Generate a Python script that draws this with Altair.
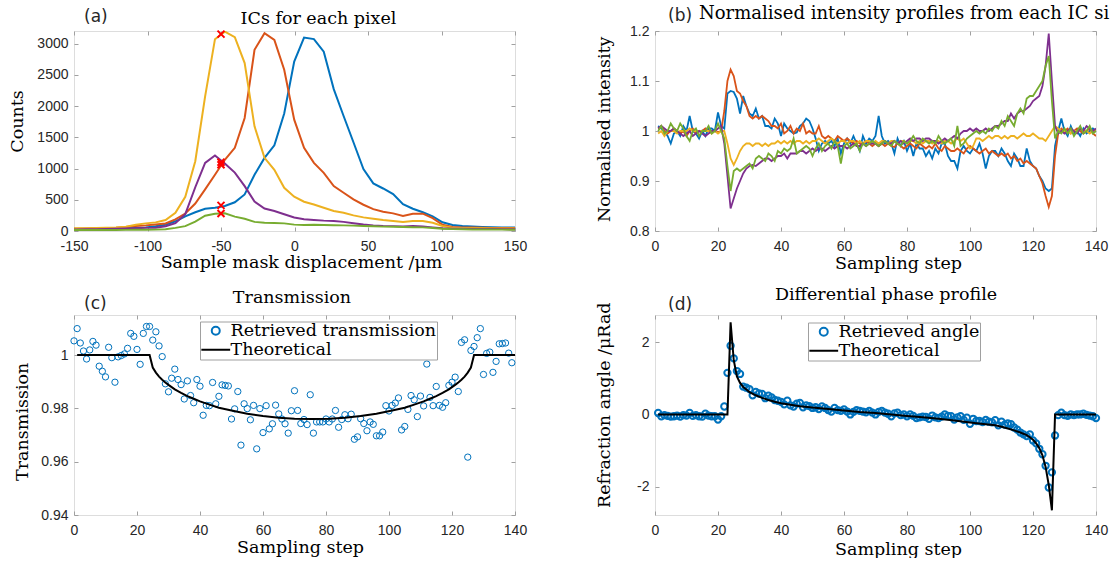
import altair as alt
import pandas as pd

# ---------------- colours / fonts ----------------
BLUE, ORANGE, YELLOW, PURPLE, GREEN = "#0072BD", "#D95319", "#EDB120", "#7E2F8E", "#77AC30"
BOX = "#a0a0a0"
LAB = "#262626"
SANS = "Liberation Sans"
SERIF = "DejaVu Serif"
TFS = 17.5
W, H = 441, 200

# ---------------- (a) ICs for each pixel ----------------
a_x = [-155.0, -148.3, -141.6, -134.9, -128.1, -121.4, -114.7, -107.9, -101.2, -94.5,
       -87.7, -81.0, -74.3, -67.5, -60.8, -54.1, -47.4, -40.6, -33.9, -27.2, -20.4,
       -13.7, -7.0, -0.2, 6.5, 13.2, 19.9, 26.7, 33.4, 40.1, 46.9, 53.6, 60.3, 67.1,
       73.8, 80.5, 87.3, 94.0, 100.7, 107.5, 114.2, 120.9, 127.7, 134.4, 141.1, 147.9, 154.6]
a_blue = [25, 25, 27, 30, 33, 37, 43, 50, 58, 75, 100, 155, 235, 300, 355, 372, 400, 460, 585,
          900, 1170, 1372, 1880, 2710, 3096, 3070, 2870, 2270, 1840, 1420, 990, 761, 680, 590,
          430, 356, 300, 235, 140, 96, 80, 72, 66, 62, 58, 55, 55]
a_orange = [37, 37, 40, 43, 48, 53, 64, 80, 90, 104, 120, 186, 280, 440, 665, 900, 1140, 1330,
            1809, 2899, 3165, 3059, 2580, 1782, 1330, 1090, 931, 718, 612, 505, 420, 350, 309,
            282, 240, 277, 277, 205, 100, 64, 58, 55, 52, 50, 48, 48, 48]
a_yellow = [43, 43, 43, 48, 53, 58, 69, 101, 122, 138, 176, 293, 548, 1117, 2154, 3069, 3190,
            3101, 2686, 1675, 1170, 980, 691, 548, 468, 425, 372, 319, 293, 250, 218, 197, 176,
            160, 144, 160, 160, 133, 80, 53, 48, 43, 43, 40, 40, 40, 40]
a_purple = [25, 25, 27, 30, 33, 37, 40, 45, 50, 53, 75, 125, 270, 700, 1090, 1207, 1080, 935,
            718, 470, 360, 319, 268, 215, 188, 176, 166, 160, 146, 124, 104, 90, 80, 78, 74, 80,
            74, 58, 43, 37, 35, 33, 32, 31, 30, 30, 30]
a_green = [15, 15, 15, 16, 16, 17, 18, 19, 20, 22, 27, 50, 78, 150, 245, 277, 282, 230, 197,
           146, 133, 128, 122, 102, 96, 101, 96, 93, 90, 86, 80, 75, 70, 67, 64, 61, 58, 48, 37,
           30, 27, 25, 24, 23, 22, 21, 21]
a_mark_x = [-50, -50, -50, -50, -50]
a_mark_y = [3150, 1100, 1060, 410, 280]

# ---------------- (b) normalised intensity profiles ----------------
b_step = list(range(1, 141))
b_blue = [1.01, 1.005, 1.0, 0.99, 0.975, 0.995, 1.0, 0.99, 1.01, 1.0,
          1.03, 1.0, 0.995, 0.985, 1.0, 0.99, 1.005, 1.005, 1.0, 1.037,
          1.01, 1.005, 1.075, 1.08, 1.078, 1.065, 1.035, 1.07, 1.05, 1.035,
          1.03, 1.045, 1.025, 1.03, 1.01, 1.01, 1.005, 1.025, 1.015, 0.99,
          1.015, 1.005, 1.0, 0.995, 0.997, 1.01, 1.015, 1.025, 1.02, 1.005,
          0.985, 0.96, 0.975, 0.98, 0.975, 0.98, 0.97, 0.985, 0.955, 0.975,
          0.985, 0.975, 0.99, 0.975, 0.96, 0.99, 0.975, 0.985, 0.98, 0.99,
          1.03, 0.99, 0.975, 0.98, 0.975, 0.955, 0.985, 0.97, 0.98, 0.96,
          0.975, 0.95, 0.975, 0.965, 0.965, 0.95, 0.96, 0.945, 0.965, 0.955,
          0.975, 0.975, 0.95, 0.94, 0.94, 0.925, 0.96, 0.97, 0.96, 0.955,
          0.965, 0.96, 0.975, 0.955, 0.925, 0.95, 0.96, 0.96, 0.95, 0.965,
          0.955, 0.94, 0.93, 0.955, 0.945, 0.93, 0.93, 0.965, 0.94, 0.93,
          0.925, 0.91, 0.9, 0.885, 0.88, 0.885, 0.97, 1.0, 1.025, 1.0,
          0.99, 1.01, 0.995, 1.0, 0.99, 1.005, 0.995, 1.0, 1.005, 1.0]
b_orange = [1.005, 1.01, 1.0, 0.995, 1.0, 1.005, 1.0, 0.995, 1.0, 0.99,
            1.0, 1.005, 0.995, 1.0, 1.0, 1.005, 1.0, 1.0, 1.0, 0.998,
            1.0, 1.04, 1.1, 1.123, 1.11, 1.08, 1.075, 1.06, 1.05, 1.03,
            1.025, 1.03, 1.025, 1.03, 1.025, 1.02, 1.01, 1.01, 1.005, 1.015,
            0.995, 1.0, 1.01, 0.995, 1.005, 1.0, 1.015, 0.995, 1.0, 0.995,
            0.995, 1.01, 0.99, 0.985, 0.99, 0.985, 0.98, 0.99, 0.985, 0.98,
            0.985, 0.98, 0.975, 0.98, 0.975, 0.975, 0.98, 0.975, 0.97, 0.975,
            0.97, 0.975, 0.97, 0.975, 0.97, 0.968, 0.975, 0.97, 0.965, 0.97,
            0.975, 0.97, 0.965, 0.975, 0.97, 0.965, 0.97, 0.965, 0.975, 0.965,
            0.96, 0.97, 0.965, 0.96, 0.96, 0.965, 0.96, 0.955, 0.965, 0.97,
            0.965, 0.96, 0.955, 0.96, 0.965, 0.955, 0.96, 0.955, 0.95, 0.955,
            0.95, 0.955, 0.945, 0.95, 0.94, 0.945, 0.935, 0.94, 0.935, 0.93,
            0.925, 0.91, 0.895, 0.87, 0.848, 0.87, 0.95, 0.995, 1.005, 1.0,
            1.005, 0.995, 1.0, 1.005, 1.0, 0.995, 1.0, 1.005, 0.995, 0.99]
b_yellow = [0.995, 1.0, 0.99, 1.0, 1.0, 1.0, 0.995, 1.0, 1.0, 1.0,
            1.005, 1.0, 1.0, 1.0, 1.0, 1.0, 1.0, 0.995, 1.0, 0.995,
            1.0, 1.0, 0.975, 0.945, 0.932, 0.945, 0.96, 0.97, 0.975, 0.975,
            0.97, 0.975, 0.975, 0.97, 0.975, 0.97, 0.975, 0.975, 0.98, 0.975,
            0.98, 0.975, 0.98, 0.975, 0.98, 0.98, 0.975, 0.98, 0.975, 0.98,
            0.98, 0.985, 0.98, 0.975, 0.98, 0.985, 0.98, 0.975, 0.98, 0.98,
            0.975, 0.98, 0.98, 0.975, 0.98, 0.975, 0.98, 0.98, 0.975, 0.98,
            0.975, 0.98, 0.98, 0.975, 0.98, 0.98, 0.975, 0.98, 0.98, 0.975,
            0.98, 0.98, 0.975, 0.98, 0.975, 0.98, 0.98, 0.975, 0.98, 0.98,
            0.975, 0.98, 0.98, 0.975, 0.98, 0.985, 0.98, 0.985, 0.975, 0.965,
            0.97, 0.985, 0.985, 0.98, 0.985, 0.99, 0.985, 0.99, 0.99, 0.985,
            0.99, 0.985, 0.99, 0.99, 0.985, 0.99, 0.995, 0.99, 0.99, 0.995,
            0.99, 0.985, 0.985, 0.98, 0.99, 1.0, 1.01, 1.005, 1.0, 1.0,
            1.0, 0.995, 1.0, 1.0, 1.005, 1.0, 1.0, 0.995, 1.0, 1.0]
b_purple = [1.005, 1.01, 1.005, 1.0, 1.0, 1.005, 1.0, 0.995, 0.99, 0.995,
            1.0, 0.99, 0.995, 1.0, 0.995, 0.99, 0.995, 1.0, 1.0, 1.005,
            1.01, 0.975, 0.91, 0.845, 0.865, 0.885, 0.9, 0.915, 0.925, 0.93,
            0.932, 0.93, 0.935, 0.94, 0.945, 0.945, 0.94, 0.945, 0.95, 0.95,
            0.955, 0.945, 0.955, 0.955, 0.955, 0.96, 0.96, 0.955, 0.96, 0.965,
            0.96, 0.965, 0.965, 0.96, 0.965, 0.97, 0.965, 0.97, 0.97, 0.97,
            0.965, 0.97, 0.975, 0.97, 0.97, 0.975, 0.97, 0.975, 0.975, 0.975,
            0.97, 0.975, 0.98, 0.975, 0.975, 0.98, 0.975, 0.98, 0.975, 0.98,
            0.985, 0.98, 0.985, 0.985, 0.98, 0.985, 0.985, 0.98, 0.98, 0.975,
            0.98, 0.985, 0.98, 0.985, 0.99, 0.985, 0.995, 1.0, 1.0, 1.005,
            1.0, 1.005, 1.0, 1.0, 1.005, 1.0, 1.005, 1.01, 1.01, 1.015,
            1.02, 1.02, 1.035, 1.025, 1.035, 1.04, 1.04, 1.045, 1.05, 1.06,
            1.065, 1.07, 1.09, 1.13, 1.195, 1.1, 1.01, 0.995, 1.0, 0.995,
            1.0, 1.005, 1.0, 0.995, 1.005, 1.0, 1.01, 1.005, 1.0, 1.005]
b_green = [1.0, 1.01, 0.995, 1.0, 1.015, 1.005, 1.0, 1.015, 1.005, 0.99,
           0.98, 1.0, 1.005, 0.99, 1.0, 1.0, 1.01, 0.995, 1.0, 1.015,
           1.0, 0.985, 0.93, 0.88, 0.92, 0.925, 0.92, 0.925, 0.93, 0.935,
           0.925, 0.945, 0.95, 0.945, 0.94, 0.955, 0.95, 0.94, 0.96, 0.955,
           0.965, 0.96, 0.965, 0.985, 0.955, 0.96, 0.965, 0.97, 0.965, 0.95,
           0.965, 0.975, 0.96, 0.97, 0.975, 0.965, 0.98, 0.97, 0.935, 0.97,
           0.975, 0.965, 0.97, 0.975, 0.96, 0.975, 0.97, 0.975, 0.98, 0.975,
           0.97, 0.975, 0.98, 0.975, 0.97, 0.98, 0.975, 0.97, 0.98, 0.975,
           0.98, 0.99, 0.98, 0.975, 0.985, 0.98, 0.975, 0.98, 0.975, 0.99,
           0.98, 0.975, 0.98, 0.985, 0.97, 1.01, 0.97, 0.975, 0.985, 0.99,
           0.995, 1.0, 0.995, 1.0, 0.995, 1.005, 1.0, 1.01, 1.005, 1.02,
           1.01, 1.03, 1.02, 1.01, 1.035, 1.045, 1.035, 1.065, 1.07, 1.07,
           1.08, 1.09, 1.1, 1.13, 1.15, 1.06, 0.985, 1.0, 0.995, 1.005,
           0.995, 1.005, 0.99, 1.0, 1.01, 0.995, 1.0, 1.01, 0.995, 1.0]

# ---------------- (c) transmission ----------------
c_step = list(range(0, 140))
c_retrieved = [1.0053, 1.0099, 1.0045, 1.0015, 0.9985, 1.0019, 1.0051, 1.0037, 0.9958, 0.9939,
               0.9918, 1.0029, 0.999, 0.9898, 0.9993, 0.9998, 1.0004, 1.0025, 1.0081, 1.007,
               1.0021, 0.9965, 1.0081, 1.0107, 1.0107, 1.0056, 1.0087, 1.0034, 0.9994, 0.9892,
               0.9862, 0.9913, 0.9947, 0.9908, 0.9889, 0.9835, 0.9903, 0.9848, 0.9821, 0.9908,
               0.9883, 0.9774, 0.9811, 0.981, 0.9897, 0.9817, 0.9845, 0.9888, 0.9886, 0.9884,
               0.976, 0.9798, 0.9863, 0.9662, 0.9817, 0.9799, 0.9757, 0.9811, 0.9648, 0.9799,
               0.9709, 0.981, 0.9723, 0.9742, 0.9812, 0.9779, 0.976, 0.9742, 0.9707, 0.9791,
               0.9866, 0.9792, 0.9743, 0.9758, 0.9739, 0.9851, 0.9707, 0.9749, 0.9749, 0.9749,
               0.976, 0.9749, 0.976, 0.9792, 0.9729, 0.9758, 0.9776, 0.9761, 0.9778, 0.9684,
               0.9693, 0.9761, 0.9743, 0.9716, 0.9749, 0.974, 0.9697, 0.9697, 0.9711, 0.981,
               0.979, 0.9811, 0.982, 0.9839, 0.9719, 0.9732, 0.9796, 0.9848, 0.9832, 0.9769,
               0.9846, 0.9809, 0.9966, 0.9841, 0.981, 0.9882, 0.9811, 0.9804, 0.9821, 0.9886,
               0.9898, 0.9917, 0.9863, 1.0047, 1.0057, 0.9617, 1.0017, 1.0032, 1.0065, 1.0099,
               0.9927, 1.0006, 1.0011, 0.9935, 0.9976, 1.0042, 1.0043, 1.0045, 1.0007, 0.9971]
c_theory_x = [1, 24, 25, 26, 27, 28, 29, 30, 32, 34, 36, 38, 40, 43, 46, 50, 55, 60, 65, 70,
              75.5, 81, 86, 91, 96, 101, 105, 108, 111, 113, 115, 117, 119, 121, 122, 123, 124,
              125, 126, 127, 140]
c_theory_y = [1.0, 1.0, 0.9953, 0.9934, 0.9919, 0.9907, 0.9897, 0.9888, 0.9871, 0.9858, 0.9846,
              0.9836, 0.9826, 0.9814, 0.9802, 0.9792, 0.978, 0.9771, 0.9765, 0.9761, 0.976,
              0.9761, 0.9765, 0.9771, 0.978, 0.9792, 0.9802, 0.9814, 0.9826, 0.9836, 0.9846,
              0.9858, 0.9871, 0.9888, 0.9897, 0.9907, 0.9919, 0.9934, 0.9953, 1.0, 1.0]

# ---------------- (d) differential phase ----------------
d_step = list(range(1, 141))
d_retrieved = [0.04, -0.05, -0.02, -0.04, -0.06, -0.05, -0.03, -0.06, -0.02, -0.03,
               0.04, -0.04, -0.02, -0.05, -0.06, 0.02, -0.03, -0.05, -0.05, -0.14,
               -0.05, 0.22, 1.15, 1.9, 1.55, 1.2, 1.12, 0.77, 0.74, 0.7,
               0.53, 0.62, 0.58, 0.57, 0.45, 0.52, 0.47, 0.4, 0.38, 0.35,
               0.28, 0.38, 0.25, 0.22, 0.3, 0.32, 0.2, 0.25, 0.23, 0.18,
               0.2, 0.15, 0.22, 0.18, 0.12, 0.08, 0.18, 0.12, 0.1, 0.14,
               0.08, 0.0, 0.07, 0.12, 0.1, 0.08, 0.06, 0.1, 0.05, 0.0,
               0.07, 0.1, 0.05, 0.02, -0.05, 0.03, 0.05, -0.02, 0.0, -0.05,
               0.0, -0.04, -0.1, -0.08, -0.06, -0.07, -0.12, -0.03, -0.08, -0.1,
               -0.06, 0.0, -0.04, -0.05, -0.14, -0.08, -0.05, -0.15, -0.09, -0.26,
               -0.12, -0.18, -0.18, -0.21, -0.15, -0.2, -0.22, -0.16, -0.3, -0.2,
               -0.28, -0.25, -0.27, -0.36, -0.42, -0.5, -0.55, -0.6, -0.55, -0.72,
               -0.8, -0.95, -1.1, -1.42, -2.02, -1.6, -0.58, -0.02, 0.05, -0.02,
               -0.04, 0.0, -0.02, 0.0, 0.0, 0.02, -0.01, -0.03, -0.05, -0.1]
d_theory_x = [1, 23, 24, 25, 26, 27, 28, 29, 30, 32, 34, 36, 38, 40, 43, 46, 50, 55, 60, 65, 70,
              75, 80, 85, 90, 95, 100, 105, 108, 110, 112, 114, 116, 118, 119, 120, 121, 122,
              123, 124, 125, 126, 127, 140]
d_theory_y = [0.0, 0.0, 2.55, 1.5, 1.05, 0.87, 0.76, 0.69, 0.62, 0.53, 0.46, 0.40, 0.35, 0.31,
              0.27, 0.23, 0.19, 0.15, 0.11, 0.07, 0.04, 0.0, -0.04, -0.08, -0.12, -0.17, -0.22,
              -0.27, -0.30, -0.34, -0.39, -0.44, -0.50, -0.57, -0.63, -0.70, -0.80, -0.93,
              -1.13, -1.45, -1.95, -2.65, 0.0, 0.0]

STEP_TICKS = [0, 20, 40, 60, 80, 100, 120, 140]


# ---------------- helpers ----------------
def ax_bottom(vals, title, tx, ty):
    return alt.Axis(orient="bottom", values=vals, labelExpr="'' + datum.value",
                    offset=-4, tickSize=4, tickColor=BOX, tickWidth=1, domain=False, grid=False,
                    labelPadding=8, labelFont=SANS, labelFontSize=14, labelColor=LAB,
                    labelFlush=False, labelOverlap=False,
                    title=title, titleFont=SERIF, titleFontSize=TFS, titleFontWeight="normal",
                    titleColor="black", titleX=tx, titleY=ty, titleAlign="center",
                    titleBaseline="alphabetic", titleAngle=0)


def ax_left(vals, title, tx, ty):
    return alt.Axis(orient="left", values=vals, labelExpr="'' + datum.value",
                    offset=-4, tickSize=4, tickColor=BOX, tickWidth=1, domain=False, grid=False,
                    labelPadding=6, labelFont=SANS, labelFontSize=14, labelColor=LAB,
                    labelFlush=False, labelOverlap=False,
                    title=title, titleFont=SERIF, titleFontSize=TFS, titleFontWeight="normal",
                    titleColor="black", titleX=tx, titleY=ty, titleAlign="center",
                    titleBaseline="alphabetic", titleAngle=270)


def ax_top(vals):
    return alt.Axis(orient="top", values=vals, offset=-4, tickSize=4, tickColor=BOX,
                    tickWidth=1, domain=False, grid=False, labels=False, title="")


def ax_right(vals):
    return alt.Axis(orient="right", values=vals, offset=-4, tickSize=4, tickColor=BOX,
                    tickWidth=1, domain=False, grid=False, labels=False, title="")


def txt(text, x, y, font, size, align="left", color="black", limit=0):
    kw = dict(font=font, fontSize=size, align=align, baseline="alphabetic", color=color,
              fontWeight="normal")
    if limit:
        kw.update(limit=limit, ellipsis="\u200b")
    return alt.Chart(pd.DataFrame({"t": [text]})).mark_text(**kw).encode(
        text="t:N", x=alt.value(x), y=alt.value(y))


def long_df(xs, series):
    frames = [pd.DataFrame({"x": xs, "v": vals, "s": name}) for name, vals in series]
    return pd.concat(frames, ignore_index=True)


# ---------------- panel (a) ----------------
names = ["IC 1", "IC 2", "IC 3", "IC 4", "IC 5"]
col5 = alt.Scale(domain=names, range=[BLUE, ORANGE, YELLOW, PURPLE, GREEN])
df_a = long_df(a_x, zip(names, [a_blue, a_orange, a_yellow, a_purple, a_green]))
df_am = pd.DataFrame({"x": a_mark_x, "v": a_mark_y})
xa = alt.Scale(domain=[-150, 150], nice=False, zero=False)
ya = alt.Scale(domain=[0, 3200], nice=False)

a_lines = alt.Chart(df_a).mark_line(strokeWidth=2, clip=True).encode(
    x=alt.X("x:Q", scale=xa, axis=ax_bottom([-150, -100, -50, 0, 50, 100, 150],
                                            "Sample mask displacement /μm", 227, 40)),
    y=alt.Y("v:Q", scale=ya, axis=ax_left([0, 500, 1000, 1500, 2000, 2500, 3000],
                                          "Counts", -56, 90)),
    color=alt.Color("s:N", scale=col5, legend=None))
a_marks = alt.Chart(df_am).mark_point(shape="M-1,-1L1,1M-1,1L1,-1", filled=False,
                                      color="#FF0000", size=49, strokeWidth=2, opacity=1).encode(
    x=alt.X("x:Q", scale=xa, axis=ax_top([-150, -100, -50, 0, 50, 100, 150])),
    y=alt.Y("v:Q", scale=ya, axis=ax_right([0, 500, 1000, 1500, 2000, 2500, 3000])))
anchor = alt.Chart(pd.DataFrame({"k": [0]})).mark_rule(color="white", strokeWidth=1).encode(
    x=alt.value(-72.5), x2=alt.value(-71.5), y=alt.value(-30))
panel_a = alt.layer(
    a_lines, a_marks,
    txt("(a)", 10, -9, "DejaVu Sans", 17, color=LAB),
    txt("ICs for each pixel", 244.5, -7.5, SERIF, TFS, align="center"),
    anchor,
).resolve_axis(x="independent", y="independent").properties(width=W, height=H)

# ---------------- panel (b) ----------------
df_b = long_df(b_step, zip(names, [b_blue, b_orange, b_yellow, b_purple, b_green]))
xb = alt.Scale(domain=[0, 140], nice=False, zero=False)
yb = alt.Scale(domain=[0.8, 1.2], nice=False, zero=False)
b_main = alt.Chart(df_b).transform_filter(alt.datum.s != "IC 5").mark_line(
    strokeWidth=1.8, clip=True).encode(
    x=alt.X("x:Q", scale=xb, axis=ax_bottom(STEP_TICKS, "Sampling step", 243, 41.6)),
    y=alt.Y("v:Q", scale=yb, axis=ax_left([0.8, 0.9, 1, 1.1, 1.2], "Normalised intensity",
                                          -49.6, 97.8)),
    color=alt.Color("s:N", scale=col5, legend=None))
b_last = alt.Chart(df_b).transform_filter(alt.datum.s == "IC 5").mark_line(
    strokeWidth=1.8, clip=True).encode(
    x=alt.X("x:Q", scale=xb, axis=ax_top(STEP_TICKS)),
    y=alt.Y("v:Q", scale=yb, axis=ax_right([0.8, 0.9, 1, 1.1, 1.2])),
    color=alt.Color("s:N", scale=col5, legend=None))
panel_b = alt.layer(
    b_main, b_last,
    txt("(b)", 13, -10, "DejaVu Sans", 17, color=LAB),
    txt("Normalised intensity profiles from each IC side", 44, -12, SERIF, 18, limit=421),
).resolve_axis(x="independent", y="independent").properties(width=W, height=H)

# ---------------- panel (c) ----------------
c_names = ["Retrieved transmission", "Theoretical"]
df_c = pd.DataFrame({"x": c_step, "v": c_retrieved, "s": c_names[0]})
df_ct = pd.DataFrame({"x": c_theory_x, "v": c_theory_y, "s": c_names[1]})
yc = alt.Scale(domain=[0.94, 1.015], nice=False, zero=False)

LEG_PROPS = dict(labelFont=SERIF, labelFontSize=TFS, labelColor="black", labelLimit=400,
                 symbolSize=64, symbolStrokeWidth=2, symbolOffset=6.5, labelOffset=6,
                 padding=0.5, rowPadding=0, strokeColor=BOX, fillColor="white",
                 symbolFillColor="transparent")


def make_legend(lx, ly):
    return alt.Legend(title=None, orient="none", legendX=lx, legendY=ly, **LEG_PROPS)


leg_c = make_legend(126, 6.5)
colc = alt.Scale(domain=c_names, range=[BLUE, "black"])
shpc = alt.Scale(domain=c_names, range=["circle", "M-3.6,0L3.6,0"])
c_pts = alt.Chart(df_c).mark_point(filled=False, size=40, strokeWidth=1, opacity=1).encode(
    x=alt.X("x:Q", scale=xb, axis=ax_bottom(STEP_TICKS, "Sampling step", 226, 41.7)),
    y=alt.Y("v:Q", scale=yc, axis=ax_left([0.94, 0.96, 0.98, 1], "Transmission", -50.7, 106.3)),
    color=alt.Color("s:N", scale=colc, legend=leg_c),
    shape=alt.Shape("s:N", scale=shpc, legend=leg_c))
c_line = alt.Chart(df_ct).mark_line(strokeWidth=2, clip=True).encode(
    x=alt.X("x:Q", scale=xb, axis=ax_top(STEP_TICKS)),
    y=alt.Y("v:Q", scale=yc, axis=ax_right([0.94, 0.96, 0.98, 1])),
    color=alt.Color("s:N", scale=colc, legend=leg_c))
panel_c = alt.layer(
    c_pts, c_line,
    txt("(c)", 10, -6, "DejaVu Sans", 17, color=LAB),
    txt("Transmission", 218, -12, SERIF, TFS, align="center"),
).resolve_axis(x="independent", y="independent").properties(width=W, height=H)

# ---------------- panel (d) ----------------
d_names = ["Retrieved angle", "Theoretical"]
df_d = pd.DataFrame({"x": d_step, "v": d_retrieved, "s": d_names[0]})
df_dt = pd.DataFrame({"x": d_theory_x, "v": d_theory_y, "s": d_names[1]})
yd = alt.Scale(domain=[-2.78, 2.75], nice=False, zero=False)
leg_d = make_legend(153, 7.5)
cold = alt.Scale(domain=d_names, range=[BLUE, "black"])
shpd = alt.Scale(domain=d_names, range=["circle", "M-3.6,0L3.6,0"])
d_pts = alt.Chart(df_d).mark_point(filled=False, size=40, strokeWidth=2, opacity=1).encode(
    x=alt.X("x:Q", scale=xb, axis=ax_bottom(STEP_TICKS, "Sampling step", 243, 43)),
    y=alt.Y("v:Q", scale=yd, axis=ax_left([-2, 0, 2], "Refraction angle /μRad", -49.6, 89.7)),
    color=alt.Color("s:N", scale=cold, legend=leg_d),
    shape=alt.Shape("s:N", scale=shpd, legend=leg_d))
d_line = alt.Chart(df_dt).mark_line(strokeWidth=2, clip=True).encode(
    x=alt.X("x:Q", scale=xb, axis=ax_top(STEP_TICKS)),
    y=alt.Y("v:Q", scale=yd, axis=ax_right([-2, 0, 2])),
    color=alt.Color("s:N", scale=cold, legend=leg_d))
panel_d = alt.layer(
    d_pts, d_line,
    txt("(d)", 13, -5.5, "DejaVu Sans", 17, color=LAB),
    txt("Differential phase profile", 231, -15, SERIF, TFS, align="center"),
).resolve_axis(x="independent", y="independent").properties(width=W, height=H)

# ---------------- assemble ----------------
chart = alt.ConcatChart(
    concat=[panel_a, panel_b, panel_c, panel_d], columns=2,
    spacing={"row": 84, "column": 140}, bounds="flush",
).resolve_scale(color="independent", shape="independent").properties(
    padding={"left": 0, "top": 0, "right": 0, "bottom": 0},
    autosize=alt.AutoSizeParams(type="pad"),
).configure_view(stroke=BOX, strokeWidth=1).configure_axis(
    titleFont=SERIF, titleFontSize=TFS, titleFontWeight="normal", titleColor="black",
    labelFont=SANS, labelFontSize=14, labelColor=LAB,
).configure_legend(**LEG_PROPS).configure(background="white")

chart.save("out.html", embed_options={"renderer": "svg", "actions": False})
